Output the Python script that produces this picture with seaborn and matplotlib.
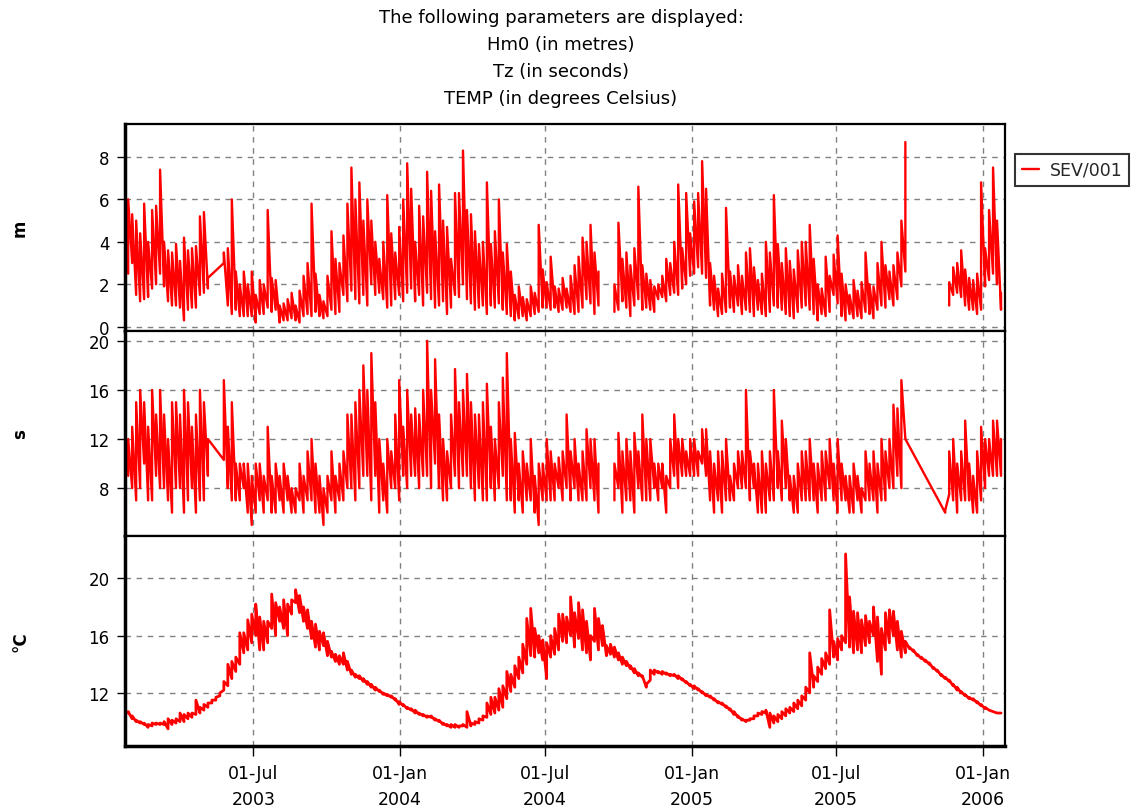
import numpy as np
import pandas as pd
import matplotlib
matplotlib.use("Agg")
import matplotlib.pyplot as plt
import seaborn as sns

nan = np.nan

# ---------------- data (5-day samples, low / high envelope of each sample) ----------------
start_date = "2003-01-25"
n_points = 220
dates = pd.date_range(start_date, periods=n_points, freq="5D")

hm0_lo = [
    2.5, 3.0, 1.5, 1.2, 1.3, 1.4, 1.8, 2.0, 2.5, 1.9,
    1.2, 1.0, 1.0, 0.9, 0.3, 0.8, 0.9, 0.9, 1.5, 1.6,
    1.8, nan, nan, nan, 3.0, 1.0, 0.6, 0.8, 0.5, 0.5,
    0.5, 0.5, 0.2, 0.6, 0.6, 0.9, 0.7, 0.8, 0.2, 0.3,
    0.3, 0.4, 0.3, 0.2, 0.5, 0.6, 0.5, 0.7, 0.5, 0.4,
    0.5, 0.8, 0.6, 0.7, 1.5, 1.2, 1.7, 1.3, 1.1, 1.5,
    1.0, 2.0, 1.5, 1.6, 1.3, 0.9, 1.0, 1.3, 1.5, 1.2,
    1.6, 1.8, 1.2, 1.5, 1.0, 1.6, 1.3, 0.9, 1.0, 1.2,
    0.6, 0.9, 1.5, 1.4, 2.0, 1.3, 1.1, 0.8, 0.9, 1.0,
    0.6, 1.0, 0.9, 1.1, 0.8, 0.6, 0.5, 0.3, 0.4, 0.5,
    0.3, 0.5, 0.6, 0.7, 0.9, 0.9, 0.8, 0.9, 0.7, 0.8,
    0.9, 0.7, 0.6, 0.7, 0.9, 1.3, 1.1, 0.6, 1.0, nan,
    nan, nan, 0.7, 0.8, 1.2, 0.9, 0.5, 1.0, 1.3, 0.8,
    0.9, 0.8, 0.7, 1.3, 1.4, 1.2, 1.5, 1.6, 1.5, 1.8,
    2.0, 2.4, 2.5, 2.8, 2.5, 2.3, 1.0, 0.8, 0.5, 0.6,
    0.7, 0.9, 0.7, 1.0, 0.6, 0.8, 0.7, 0.5, 0.8, 0.6,
    0.5, 0.7, 1.0, 0.9, 0.8, 0.6, 0.5, 0.4, 0.7, 0.9,
    1.0, 0.8, 0.6, 0.3, 0.6, 0.5, 0.7, 1.5, 1.1, 0.5,
    0.3, 0.6, 0.4, 0.5, 0.4, 0.7, 0.6, 0.4, 0.8, 1.0,
    0.9, 1.3, 1.0, 1.3, 1.9, 2.6, nan, nan, nan, nan,
    nan, nan, nan, nan, nan, nan, 1.0, 1.5, 1.6, 1.4,
    1.0, 0.8, 0.8, 0.6, 0.8, 1.9, 2.2, 2.5, 2.0, 0.8,
]
hm0_hi = [
    6.0, 5.3, 5.0, 4.4, 5.8, 4.0, 5.5, 5.7, 7.4, 4.0,
    3.6, 3.5, 3.9, 3.1, 4.2, 3.6, 3.7, 3.8, 5.2, 5.4,
    2.3, nan, nan, nan, 3.5, 3.7, 6.0, 2.6, 2.0, 2.6,
    2.0, 2.6, 1.5, 2.2, 2.0, 5.5, 2.3, 2.2, 1.0, 1.1,
    1.3, 1.6, 1.0, 1.7, 2.4, 3.0, 5.8, 2.5, 1.5, 1.2,
    2.4, 4.5, 3.2, 3.0, 4.3, 5.8, 7.5, 6.0, 6.8, 5.0,
    6.0, 5.0, 4.0, 3.2, 4.0, 6.2, 4.4, 3.5, 4.7, 6.0,
    7.7, 6.5, 4.0, 5.7, 5.2, 7.3, 6.4, 4.5, 6.7, 5.0,
    4.7, 3.2, 6.3, 6.3, 8.3, 5.5, 5.3, 4.5, 3.9, 4.0,
    6.8, 3.9, 4.5, 6.0, 3.5, 3.9, 2.6, 1.5, 1.9, 1.4,
    1.3, 1.9, 1.6, 4.8, 2.7, 2.1, 3.3, 1.9, 1.8, 2.3,
    1.8, 2.4, 2.9, 3.3, 4.2, 4.0, 4.8, 3.5, 2.6, nan,
    nan, nan, 2.0, 4.9, 3.2, 3.5, 2.9, 3.7, 6.6, 2.9,
    2.5, 2.2, 1.9, 2.0, 2.4, 3.2, 3.0, 4.0, 6.7, 3.7,
    6.3, 4.4, 5.9, 6.3, 7.8, 6.5, 3.0, 2.4, 1.8, 2.5,
    5.6, 2.6, 2.4, 2.9, 2.4, 3.5, 3.7, 2.8, 2.2, 2.5,
    4.0, 3.5, 6.2, 3.9, 3.0, 3.7, 3.1, 2.7, 3.6, 4.0,
    4.0, 4.8, 3.2, 2.0, 1.8, 3.3, 2.4, 3.4, 4.3, 2.5,
    2.0, 1.5, 2.2, 1.7, 2.1, 3.5, 2.0, 1.9, 3.0, 4.0,
    2.9, 2.6, 2.9, 3.5, 5.0, 8.7, nan, nan, nan, nan,
    nan, nan, nan, nan, nan, nan, 2.1, 2.8, 3.0, 3.6,
    2.7, 2.3, 2.2, 2.5, 6.8, 3.7, 5.5, 7.5, 5.0, 1.6,
]

tz_lo = [
    9, 8, 7, 8, 10, 7, 7, 9, 8, 8,
    7, 6, 8, 8, 6, 7, 8, 6, 7, 7,
    9, nan, nan, nan, 10.3, 8, 7, 7, 7, 8,
    6, 5, 6, 7, 6, 7, 6, 6, 7, 6,
    7, 6, 6, 7, 6, 7, 7, 6, 6, 5,
    6, 7, 6, 7, 7, 8, 8, 7, 8, 9,
    9, 7, 9, 6, 7, 6, 8, 8, 7, 9,
    8, 9, 9, 8, 9, 9, 8, 10, 8, 7,
    7, 8, 9, 8, 9, 9, 8, 7, 8, 7,
    7, 8, 7, 8, 9, 7, 7, 6, 7, 6,
    7, 7, 6, 5, 7, 7, 7, 7, 8, 7,
    8, 7, 8, 7, 7, 7, 8, 7, 6, nan,
    nan, nan, 7, 8, 6, 7, 7, 6, 8, 7,
    7, 7, 8, 7, 8, 6, 8, 9, 8, 9,
    9, 9, 9, 9, 10, 9, 7, 6, 7, 6,
    7, 7, 7, 8, 8, 8, 7, 8, 6, 6,
    6, 7, 7, 8, 7, 8, 7, 6, 6, 7,
    7, 7, 7, 6, 7, 7, 8, 7, 6, 7,
    7, 6, 6, 7, 6, 7, 7, 7, 6, 7,
    7, 8, 8, 9, 8, 12, nan, nan, nan, nan,
    nan, nan, nan, nan, nan, 6, 7.5, 7, 6, 7,
    7, 7, 6, 6, 7, 8, 9, 9, 9, 9,
]
tz_hi = [
    12, 13, 15, 16, 15, 13, 16, 14, 16, 14,
    12, 15, 15, 14, 16, 15, 13, 14, 16, 15,
    12, nan, nan, nan, 16.8, 13, 15, 10, 10, 10,
    10, 9, 10, 10, 9, 13, 9, 10, 9, 10,
    9, 8, 8, 10, 9, 11, 12, 10, 9, 8,
    9, 11, 9, 10, 11, 14, 14, 15, 16, 18,
    16, 19, 15, 12, 10, 12, 11, 14, 16.8, 13,
    16, 14, 14.5, 14, 16, 20, 16, 18.5, 14, 12,
    11, 14, 17.7, 15, 16, 17.3, 15, 14, 14, 15,
    16.5, 13, 12, 15, 17, 19, 12, 12.5, 10, 11,
    10, 12, 9, 10, 10, 12, 11, 10, 10.5, 11,
    14, 11, 12, 10, 11, 12.8, 12, 12, 10, nan,
    nan, nan, 10, 12.5, 11, 12, 11, 12.5, 11, 14,
    12, 12, 10, 10, 10, 9, 12, 14, 12, 12,
    11, 12, 12, 11, 12.8, 12.8, 11, 10, 11, 11,
    12, 9, 10, 11, 11, 16, 11, 10, 10, 11,
    10, 11, 16, 11, 13.5, 12, 9, 9, 10, 11,
    11, 12, 10, 10, 11, 11, 12, 10, 12, 10,
    9, 9, 10, 9, 8, 11, 10, 11, 10, 12,
    11, 12, 14.8, 14.5, 16.8, 12, nan, nan, nan, nan,
    nan, nan, nan, nan, nan, 6.2, 11, 12, 10, 11,
    13.5, 10, 9, 11, 13, 12, 12, 13.5, 13.5, 12,
]

temp_lo = [
    10.6, 10.2, 10.0, 9.9, 9.8, 9.6, 9.7, 9.8, 9.8, 9.8,
    9.5, 9.8, 9.9, 10.0, 10.0, 10.2, 10.3, 10.5, 10.6, 10.8,
    11.0, 11.3, 11.5, 11.8, 12.2, 12.5, 13.0, 13.5, 14.0, 14.8,
    15.0, 15.5, 16.0, 15.0, 15.0, 15.5, 16.5, 16.0, 17.0, 16.5,
    16.0, 17.5, 18.3, 17.6, 17.0, 16.5, 15.8, 15.2, 15.0, 15.3,
    14.6, 14.5, 14.2, 14.0, 14.0, 13.6, 13.3, 13.1, 13.0, 12.8,
    12.6, 12.4, 12.2, 12.1, 11.9, 11.8, 11.7, 11.5, 11.2, 11.1,
    10.9, 10.8, 10.6, 10.5, 10.4, 10.3, 10.3, 10.1, 10.0, 9.8,
    9.7, 9.6, 9.6, 9.6, 9.7, 9.6, 9.7, 9.8, 9.9, 10.1,
    10.3, 10.5, 10.6, 10.8, 11.0, 11.6, 12.1, 12.4, 13.0, 13.4,
    14.0, 14.6, 14.5, 14.8, 14.3, 13.0, 14.5, 14.7, 15.0, 15.6,
    15.5, 16.0, 15.2, 15.8, 15.0, 14.8, 14.3, 15.6, 15.0, 15.3,
    14.6, 14.7, 14.5, 14.3, 14.0, 13.9, 13.7, 13.4, 13.2, 13.1,
    12.4, 12.9, 13.3, 13.4, 13.3, 13.3, 13.2, 13.2, 13.0, 12.9,
    12.7, 12.5, 12.3, 12.2, 12.0, 11.8, 11.7, 11.5, 11.3, 11.2,
    11.0, 10.8, 10.5, 10.3, 10.1, 10.0, 10.1, 10.2, 10.4, 10.5,
    10.6, 9.6, 9.9, 10.0, 10.2, 10.4, 10.6, 10.7, 10.9, 11.1,
    11.5, 12.0, 12.4, 12.8, 13.3, 13.7, 14.0, 14.5, 14.3, 15.0,
    15.5, 15.2, 14.8, 15.0, 14.8, 15.3, 15.5, 16.0, 14.2, 13.3,
    15.0, 15.5, 16.0, 15.0, 14.5, 14.8, 15.1, 14.9, 14.6, 14.4,
    14.2, 14.0, 13.7, 13.5, 13.2, 13.0, 12.8, 12.5, 12.2, 12.0,
    11.8, 11.6, 11.5, 11.3, 11.1, 10.9, 10.8, 10.7, 10.6, 10.6,
]
temp_hi = [
    10.7, 10.4, 10.1, 10.0, 9.9, 9.8, 9.9, 9.9, 9.9, 10.0,
    10.2, 10.1, 10.2, 10.6, 10.5, 10.6, 10.6, 11.5, 11.0, 11.2,
    11.3, 11.5, 11.7, 12.0, 12.8, 14.0, 14.2, 14.5, 16.2, 16.2,
    17.1, 17.5, 18.2, 17.3, 17.0, 17.0, 18.9, 18.3, 18.0, 18.5,
    18.2, 18.5, 19.2, 18.8, 18.0, 17.8, 17.0, 16.8, 16.3, 16.2,
    15.6, 14.9, 14.7, 14.6, 14.8, 14.2, 13.6, 13.3, 13.2, 13.0,
    12.8, 12.6, 12.4, 12.2, 12.0, 11.9, 11.8, 11.6, 11.4, 11.2,
    11.0, 10.9, 10.8, 10.6, 10.5, 10.4, 10.4, 10.2, 10.1, 9.9,
    9.8, 9.8, 9.8, 9.7, 9.8, 10.7, 9.9, 10.0, 10.2, 10.4,
    11.3, 11.7, 11.7, 12.3, 12.5, 13.5, 13.3, 13.9, 14.5, 15.4,
    17.2, 17.9, 16.5, 16.0, 15.7, 15.5, 16.0, 16.5, 17.5, 17.5,
    17.3, 18.7, 17.6, 18.3, 17.8, 17.0, 16.0, 17.9, 17.2, 16.7,
    15.3, 15.4, 15.2, 14.8, 14.5, 14.2, 13.9, 13.7, 13.4, 13.2,
    12.6, 13.6, 13.6, 13.5, 13.5, 13.4, 13.3, 13.3, 13.2, 13.0,
    12.8, 12.6, 12.5, 12.3, 12.1, 11.9, 11.8, 11.6, 11.4, 11.3,
    11.1, 10.9, 10.7, 10.4, 10.2, 10.1, 10.2, 10.4, 10.6, 10.7,
    10.8, 10.6, 10.4, 10.5, 10.7, 10.9, 11.0, 11.3, 11.5, 11.8,
    12.4, 14.8, 13.2, 13.8, 14.4, 14.8, 17.8, 15.6, 15.8, 16.0,
    21.7, 18.7, 17.7, 17.6, 17.1, 17.4, 17.0, 18.0, 17.3, 16.5,
    17.6, 17.8, 17.7, 17.0, 16.3, 15.6, 15.2, 15.0, 14.7, 14.5,
    14.3, 14.1, 13.8, 13.6, 13.3, 13.1, 12.9, 12.6, 12.4, 12.1,
    11.9, 11.7, 11.6, 11.4, 11.2, 11.0, 10.8, 10.7, 10.6, 10.6,
]

# gaps (sample index ranges, exclusive) across which the record is joined by a line
hm0_bridged = [(20, 24)]
tz_bridged = [(20, 24), (195, 205)]
temp_bridged = []

title_lines = ["The following parameters are displayed:", "Hm0 (in metres)",
               "Tz (in seconds)", "TEMP (in degrees Celsius)"]
unit_labels = ["m", "s", "\u00b0C"]
series_name = "SEV/001"
xtick_dates = ["2003-07-01", "2004-01-01", "2004-07-01", "2005-01-01", "2005-07-01", "2006-01-01"]
xtick_labels = ["01-Jul\n2003", "01-Jan\n2004", "01-Jul\n2004", "01-Jan\n2005", "01-Jul\n2005", "01-Jan\n2006"]

# ---------------- style ----------------
sns.set_theme(style="white")
plt.rcParams["font.family"] = ["DejaVu Sans"]
RED = "#FF0000"


def segments(lo, hi, bridged):
    """Each sample drawn as a stroke from its low to its high value."""
    xs, ys = [], []
    for k in range(len(dates)):
        if any(a < k < b for a, b in bridged):
            continue
        xs += [dates[k], dates[k]]
        ys += [lo[k], hi[k]]
    segs, cx, cy = [], [], []
    for x, y in zip(xs, ys):
        if np.isnan(y):
            if cx:
                segs.append((cx, cy))
                cx, cy = [], []
        else:
            cx.append(x)
            cy.append(y)
    if cx:
        segs.append((cx, cy))
    return segs


fig = plt.figure(figsize=(11.35, 8.12), dpi=100)
left, width = 125 / 1135, 880 / 1135
ax_top = fig.add_axes([left, 1 - 332 / 812, width, 207 / 812])
ax_mid = fig.add_axes([left, 1 - 537 / 812, width, 205 / 812], sharex=ax_top)
ax_bot = fig.add_axes([left, 1 - 747 / 812, width, 210 / 812], sharex=ax_top)
axes = [ax_top, ax_mid, ax_bot]

panels = [
    (hm0_lo, hm0_hi, hm0_bridged, (-0.2, 9.55), [0, 2, 4, 6, 8], 1.7),
    (tz_lo, tz_hi, tz_bridged, (4.1, 20.8), [8, 12, 16, 20], 1.7),
    (temp_lo, temp_hi, temp_bridged, (8.3, 22.95), [12, 16, 20], 2.0),
]

for ax, (lo, hi, br, ylim, yt, lw) in zip(axes, panels):
    for cx, cy in segments(lo, hi, br):
        sns.lineplot(x=cx, y=cy, ax=ax, color=RED, linewidth=lw,
                     estimator=None, sort=False, legend=False)
    ax.set_ylim(*ylim)
    ax.set_yticks(yt)
    ax.set_ylabel("")
    ax.set_xlabel("")
    ax.grid(True, color="#808080", linestyle=(0, (4, 4)), linewidth=1.0)
    ax.set_axisbelow(True)
    for s in ax.spines.values():
        s.set_color("black")
        s.set_linewidth(1.6)
    ax.spines["left"].set_linewidth(2.5)
    ax.tick_params(axis="y", direction="out", length=6, width=1, colors="black",
                   labelsize=12, left=True, pad=5)
    ax.tick_params(axis="x", length=0, labelbottom=False)

ax_bot.spines["bottom"].set_linewidth(2.5)
ax_bot.set_xlim(pd.Timestamp("2003-01-21"), pd.Timestamp("2006-01-29"))
ax_bot.set_xticks(pd.to_datetime(xtick_dates))
ax_bot.set_xticklabels(xtick_labels, linespacing=1.55)
ax_bot.tick_params(axis="x", direction="out", length=7, width=1, colors="black",
                   labelsize=12.5, labelbottom=True, bottom=True, pad=6)

# unit labels
for ax, lab in zip(axes, unit_labels):
    pos = ax.get_position()
    fig.text(20 / 1135, pos.y0 + pos.height / 2, lab, rotation=90, ha="center", va="center",
             fontsize=12, fontweight="bold", color="black")

# title block
for k, line in enumerate(title_lines):
    fig.text(561 / 1135, 1 - (18 + 27 * k) / 812, line, ha="center", va="center",
             fontsize=13, color="black")

# legend
handle = ax_top.get_lines()[0]
leg = fig.legend([handle], [series_name], loc="upper left",
                 bbox_to_anchor=(1015 / 1135, 1 - 155 / 812), borderaxespad=0,
                 frameon=True, fancybox=False, edgecolor="black", handlelength=1.0,
                 handletextpad=0.6, borderpad=0.4, fontsize=12.5)
leg.get_frame().set_linewidth(1.5)

fig.savefig("out.png", dpi=100, facecolor="white")
